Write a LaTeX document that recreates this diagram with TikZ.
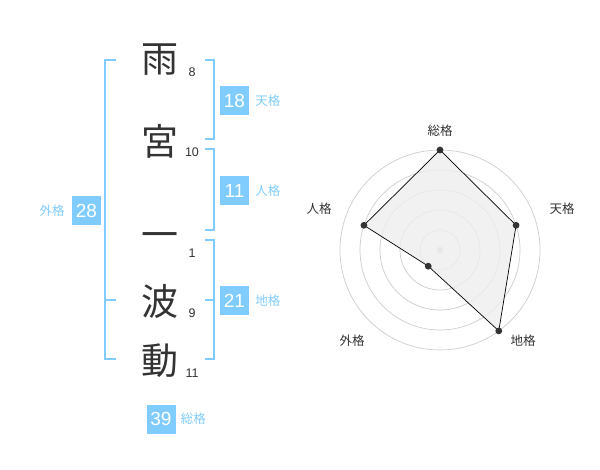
\documentclass[tikz,border=0pt]{standalone}
\usepackage{fontspec}
\usetikzlibrary{positioning}
\setmainfont{Liberation Sans}
\newfontfamily\jp{Noto Sans CJK JP}
\definecolor{kakublue}{RGB}{128,204,255}
\definecolor{ink}{RGB}{51,51,51}
\definecolor{ring}{RGB}{204,204,204}
\definecolor{area}{RGB}{238,238,238}
\newcommand{\kanji}[1]{{\jp\fontsize{37}{37}\selectfont #1}}
\newcommand{\stroke}[1]{{\fontsize{12.5}{12.5}\selectfont #1}}
\newcommand{\kaku}[1]{{\jp\fontsize{12.5}{12.5}\selectfont #1}}

\begin{document}
\begin{tikzpicture}[x=1pt,y=-1pt]
\tikzstyle{every node}+=[inner sep=0pt]
\tikzstyle{numbox}=[fill=kakublue,text=white,minimum size=29pt,font=\fontsize{19}{19}\selectfont]
\tikzstyle{bracket}=[kakublue,line width=2pt]
\useasboundingbox (0,0) rectangle (600,470);
% name
\node [text=ink] (ame) at (160,60) {\kanji{雨}};
\node [text=ink] (miya) at (160,141) {\kanji{宮}};
\node [text=ink] (ichi) at (160,241) {\kanji{一}};
\node [text=ink] (nami) at (160,301) {\kanji{波}};
\node [text=ink] (dou) at (160,361) {\kanji{動}};
\node [text=ink] (s1) at (192,72) {\stroke{8}};
\node [text=ink] (s2) at (192,152) {\stroke{10}};
\node [text=ink] (s3) at (192,253) {\stroke{1}};
\node [text=ink] (s4) at (192,313) {\stroke{9}};
\node [text=ink] (s5) at (192,373) {\stroke{11}};
% brackets
\draw [bracket] (116,60) -- (105,60) -- (105,359) -- (116,359);
\draw [bracket] (105,300) -- (116,300);
\draw [bracket] (205,60) -- (214,60) -- (214,139) -- (205,139);
\draw [bracket] (205,149) -- (214,149) -- (214,230) -- (205,230);
\draw [bracket] (205,240) -- (214,240) -- (214,359) -- (205,359);
\draw [bracket] (205,300) -- (214,300);
% totals
\node [numbox] (gaibox) at (86.5,210.5) {28};
\node [text=kakublue,left=7pt of gaibox] (gailab) {\kaku{外格}};
\node [numbox] (tenbox) at (234.5,100.5) {18};
\node [text=kakublue,right=6pt of tenbox] (tenlab) {\kaku{天格}};
\node [numbox] (jinbox) at (234.5,190.5) {11};
\node [text=kakublue,right=6pt of jinbox] (jinlab) {\kaku{人格}};
\node [numbox] (chibox) at (234.5,300.5) {21};
\node [text=kakublue,right=6pt of chibox] (chilab) {\kaku{地格}};
\node [numbox] (soubox) at (161,419) {39};
\node [text=kakublue,right=5pt of soubox] (soulab) {\kaku{総格}};
% radar
\begin{scope}[shift={(440,250)}]
\foreach \r in {20,40,60,80,100}
  \draw [ring,line width=0.7pt] (0,0) circle (\r);
\fill [ring] (0,0) circle (3.2);
\coordinate (sou) at (-90:100);
\coordinate (ten) at (-18:80);
\coordinate (chi) at (54:100);
\coordinate (gai) at (126:20);
\coordinate (jin) at (198:80);
\draw [black,line width=0.7pt,fill=area,fill opacity=0.8] (sou) -- (ten) -- (chi) -- (gai) -- (jin) -- cycle;
\foreach \p in {sou,ten,chi,gai,jin}
  \fill [ink] (\p) circle (3.4);
\end{scope}
\node [text=ink] (soutxt) at (440,131) {\kaku{総格}};
\node [text=ink] (tentxt) at (562,209) {\kaku{天格}};
\node [text=ink] (jintxt) at (319,209) {\kaku{人格}};
\node [text=ink] (chitxt) at (523,341) {\kaku{地格}};
\node [text=ink] (gaitxt) at (352,341) {\kaku{外格}};
\end{tikzpicture}
\end{document}
